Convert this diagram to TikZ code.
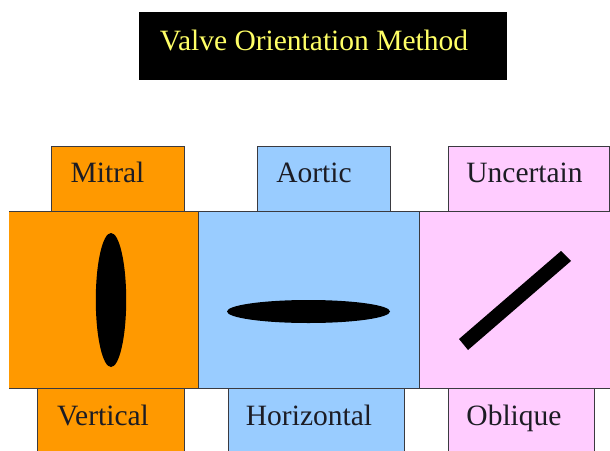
\documentclass[tikz,border=0pt]{standalone}
\usepackage{fontspec}
\setmainfont{Liberation Serif}
\definecolor{orng}{HTML}{FF9900}
\definecolor{blu}{HTML}{99CCFF}
\definecolor{pnk}{HTML}{FFCCFF}
\definecolor{yel}{HTML}{FFFF66}
\definecolor{edge}{HTML}{3A3A40}
\definecolor{ink}{HTML}{1C1C24}
\tikzset{x=1pt,y=-1pt,
  panel/.style={draw=edge,line width=0.9pt},
  lbl/.style={font=\fontsize{29.5}{34}\selectfont,text=ink,anchor=base,inner sep=0pt}}
\begin{document}
\begin{tikzpicture}
\useasboundingbox (0,0) rectangle (610,450);
\clip (0,0) rectangle (610,450);
\fill[white] (0,0) rectangle (610,450);
\fill[black] (139,12) rectangle (507,80);
\node[lbl,text=yel] (title) at (314,50) {Valve Orientation Method};
\path[panel,fill=orng] (51,146) rectangle (184,211);
\path[panel,fill=blu] (257,146) rectangle (390,211);
\path[panel,fill=pnk] (448,146) rectangle (609,211);
\path[panel,fill=orng] (37,388) rectangle (184,460);
\path[panel,fill=blu] (228,388) rectangle (404,460);
\path[panel,fill=pnk] (448,388) rectangle (594,460);
\fill[orng] (9,211) rectangle (198,388);
\draw[panel] (9,211) -- (198,211) -- (198,388) -- (9,388);
\path[panel,fill=blu] (198,211) rectangle (419,388);
\path[panel,fill=pnk] (419,211) rectangle (620,388);
\node[lbl] (mitral) at (107.5,182) {Mitral};
\node[lbl] (aortic) at (314,182) {Aortic};
\node[lbl] (uncertain) at (524.5,182) {Uncertain};
\node[lbl] (vertical) at (103,425) {Vertical};
\node[lbl] (horizontal) at (309,425) {Horizontal};
\node[lbl] (oblique) at (514,425) {Oblique};
\fill[black] (111,300) ellipse [x radius=15.2,y radius=67];
\fill[black] (308.5,311.5) ellipse [x radius=81.5,y radius=11.5];
\fill[black] (459,339) -- (561,251) -- (571,261) -- (468,350) -- cycle;
\end{tikzpicture}
\end{document}
